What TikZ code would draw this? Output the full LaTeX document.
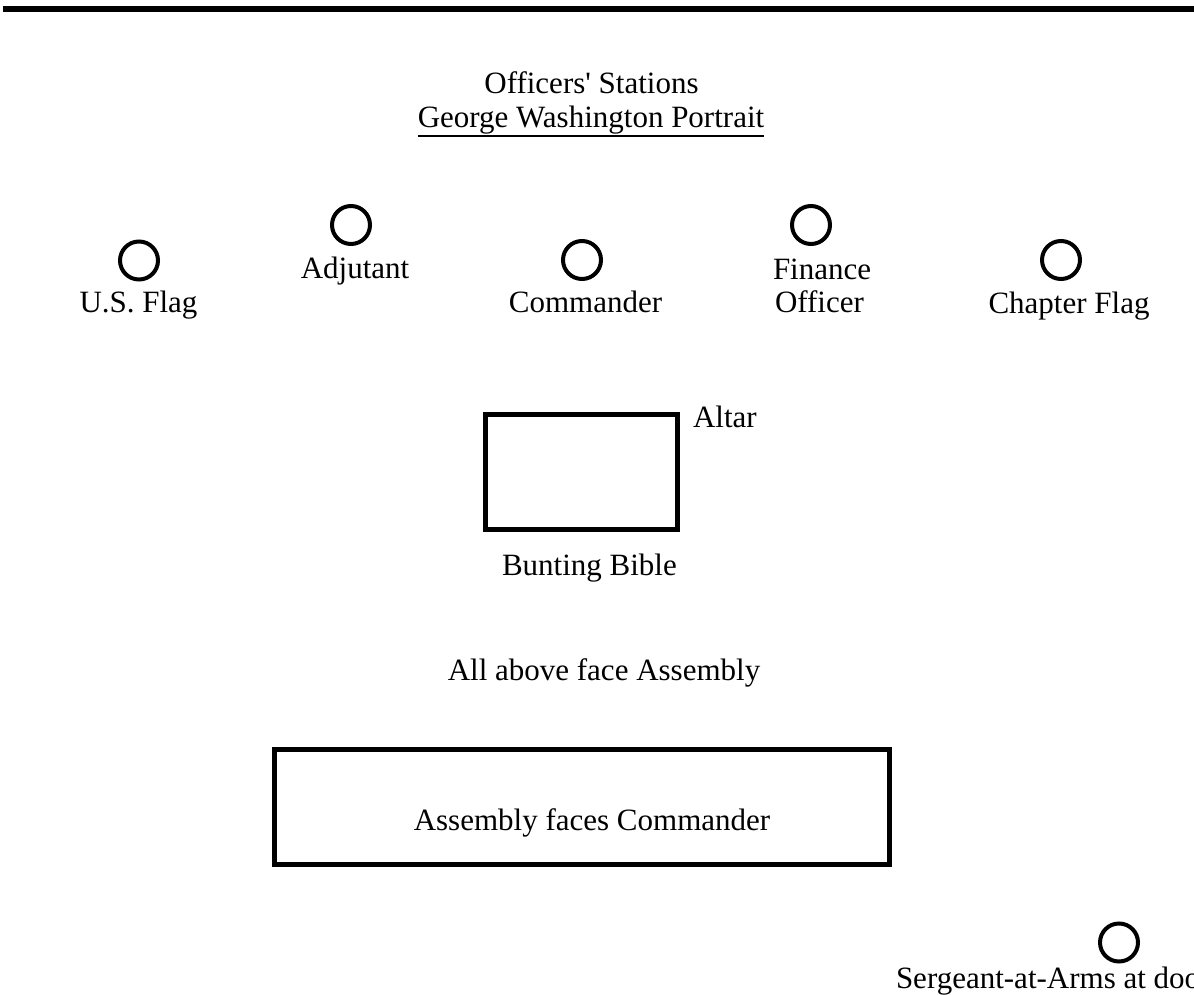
\documentclass[tikz,border=0pt]{standalone}
\usepackage{fontspec}
\setmainfont{Liberation Serif}[Ligatures=TeXOff]
\begin{document}
\begin{tikzpicture}[x=1pt,y=-1pt,
  lbl/.style={font=\fontsize{31}{34}\selectfont, inner sep=0pt, outer sep=0pt},
  station/.style={circle, draw, line width=4pt, minimum size=38pt, inner sep=0pt},
  thickbox/.style={draw, line width=5pt}]
\useasboundingbox (0,0) rectangle (1194,995);
% top bar
\fill (3,6) rectangle (1200,12);
% headings
\node[lbl, anchor=base] (off) at (591.5,94) {Officers' Stations};
\node[lbl, anchor=base] (gw) at (591,128) {George Washington Portrait};
\draw[line width=2pt] ([yshift=-8pt]gw.base west) -- ([yshift=-8pt]gw.base east);
% stations
\node[station] (usc) at (139,260.5) {};
\node[lbl, anchor=base] (us) at (138.5,312) {U.S. Flag};
\node[station] (adc) at (351,225) {};
\node[lbl, anchor=base] (ad) at (355,278) {Adjutant};
\node[station] (coc) at (582,260) {};
\node[lbl, anchor=base] (co) at (585.5,312) {Commander};
\node[station] (fic) at (811,225) {};
\node[lbl, anchor=base west] (fi) at (773,279) {Finance};
\node[lbl, anchor=base west] (fo) at (775,312) {Officer};
\node[station] (chc) at (1061,260) {};
\node[lbl, anchor=base] (ch) at (1069,313) {Chapter Flag};
% altar
\node[thickbox, minimum width=192pt, minimum height=115pt, inner sep=0pt] (altar) at (581,471.5) {};
\node[lbl, anchor=base west] (alt) at (693,427) {Altar};
\node[lbl, anchor=base west] (bb) at (502,575) {Bunting Bible};
\node[lbl, anchor=base] (face) at (604,680) {All above face Assembly};
% assembly
\node[thickbox, minimum width=614.5pt, minimum height=115pt, inner sep=0pt] (asm) at (581.75,807) {};
\node[lbl, anchor=base] (asmt) at (592,830) {Assembly faces Commander};
% sergeant
\node[station] (sac) at (1119,942.5) {};
\node[lbl, anchor=base west] (sa) at (896,988) {Sergeant-at-Arms at door};
\end{tikzpicture}
\end{document}
